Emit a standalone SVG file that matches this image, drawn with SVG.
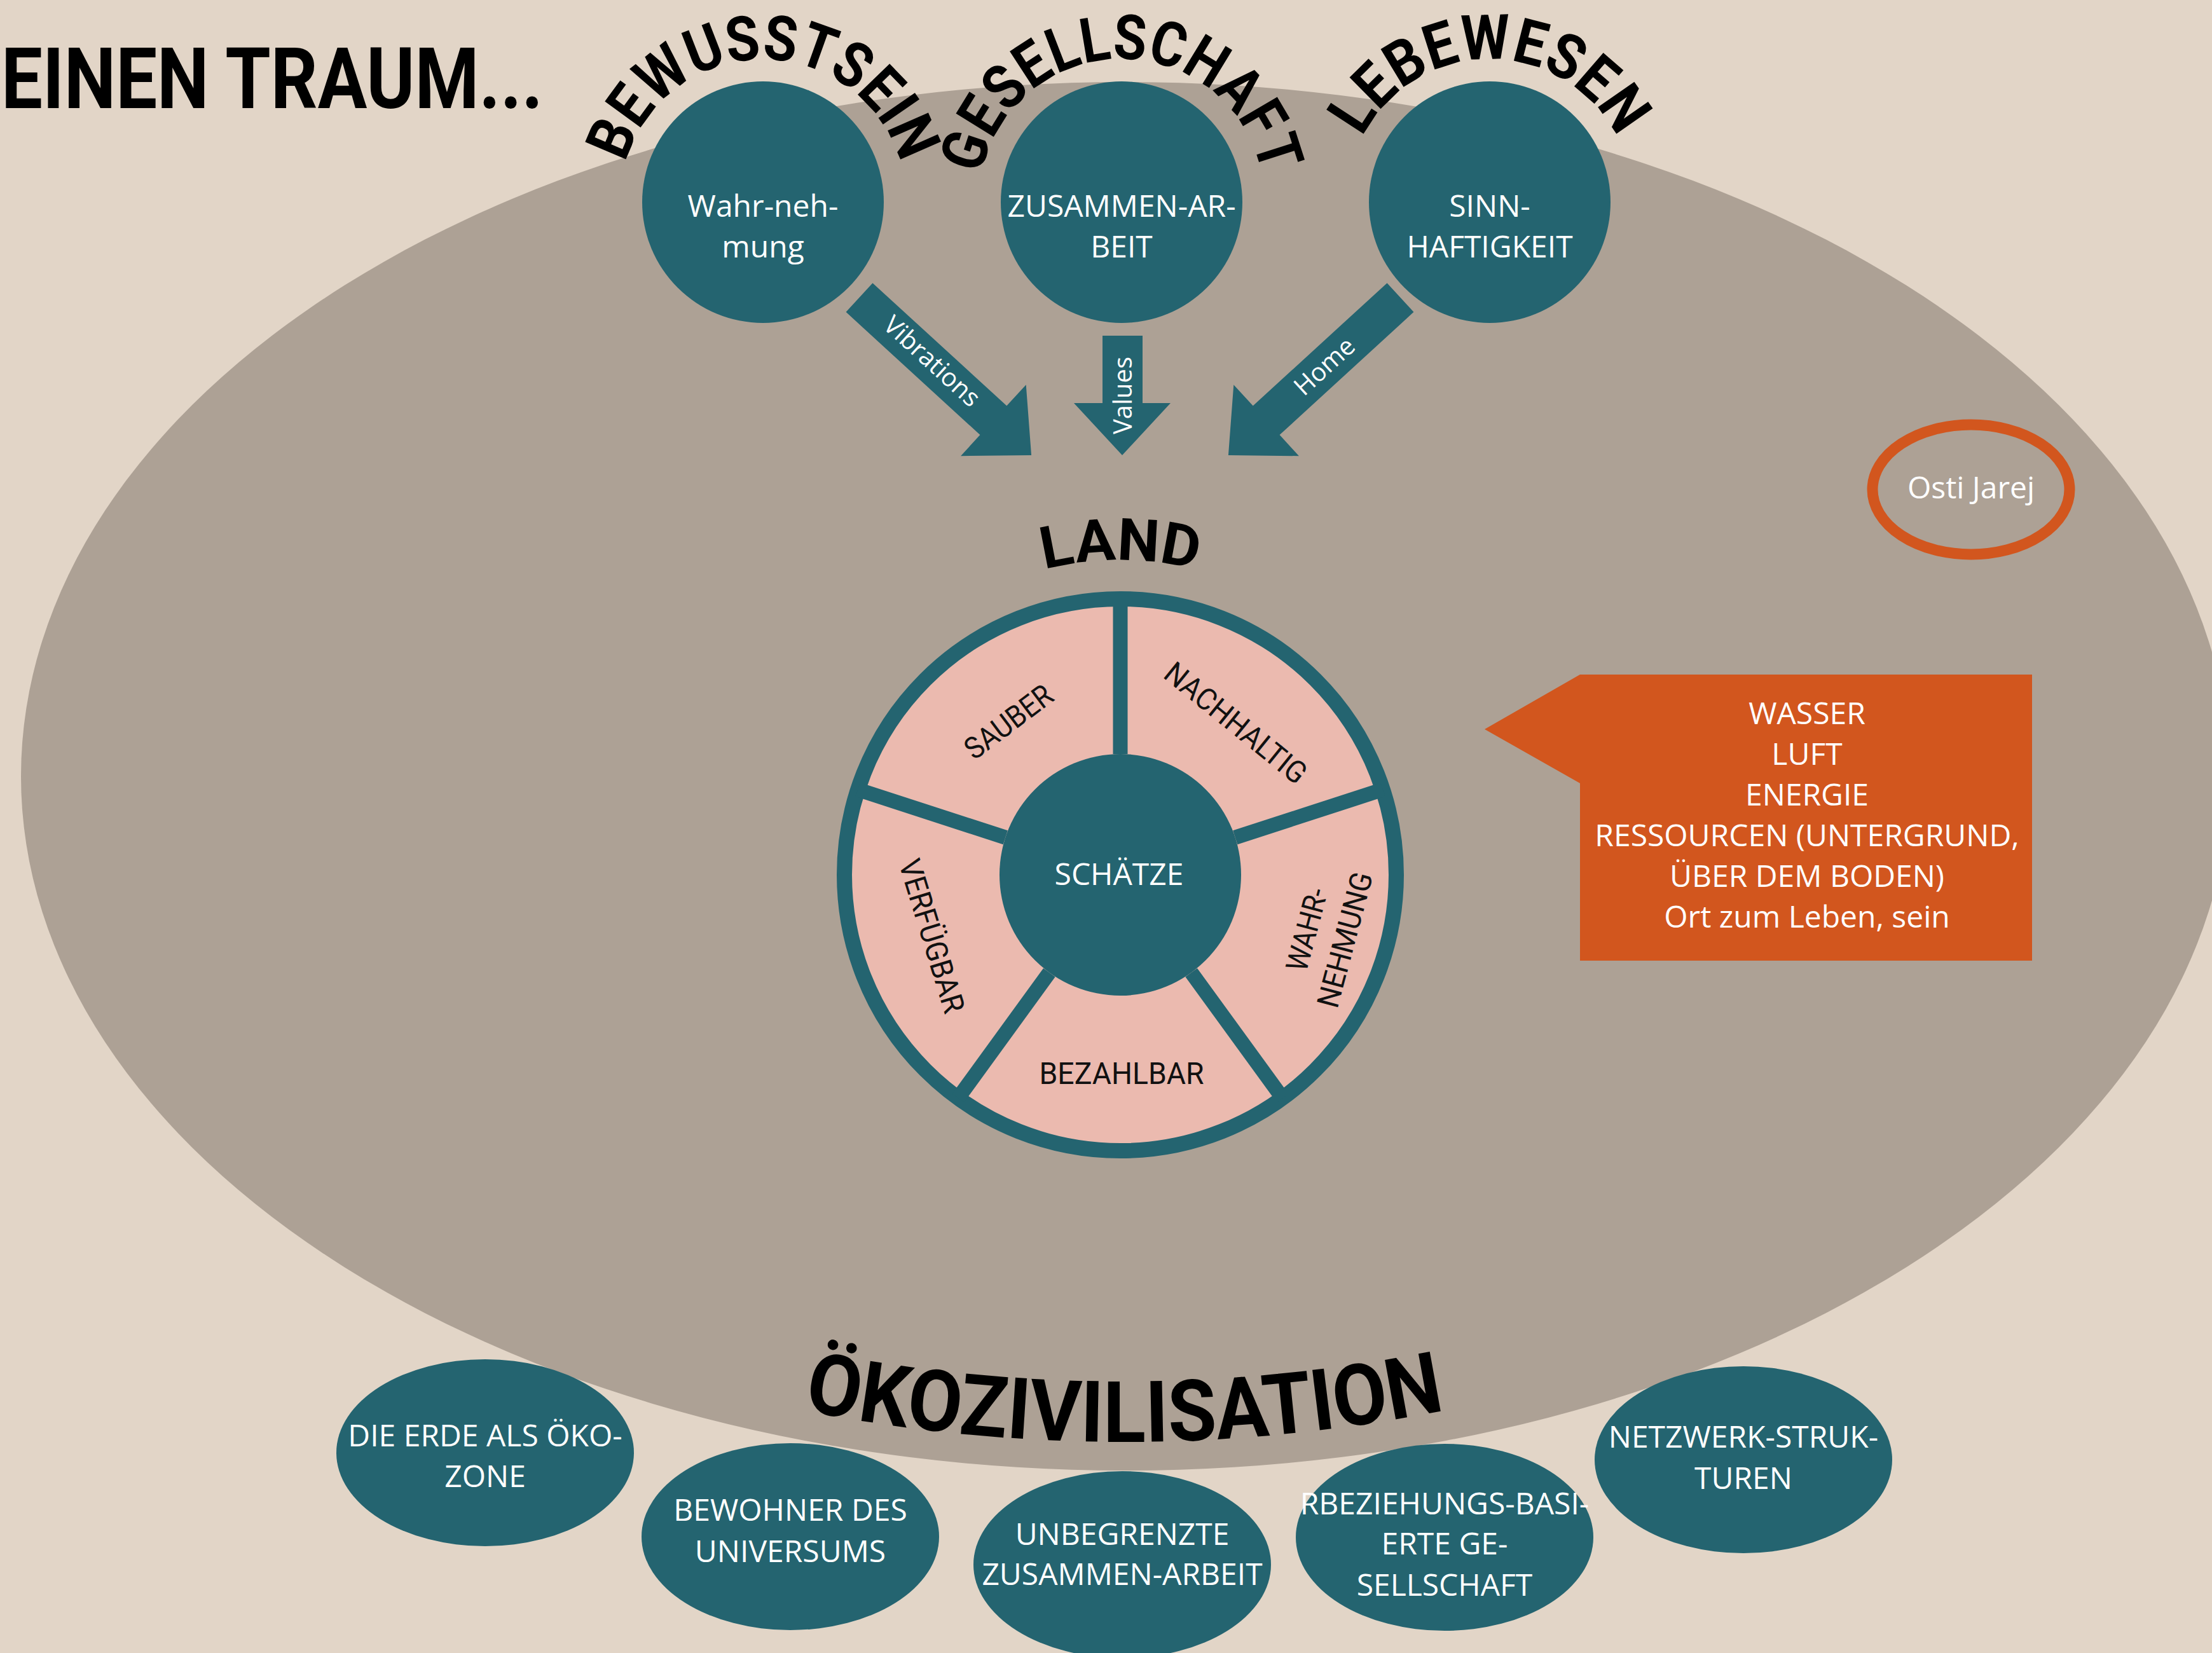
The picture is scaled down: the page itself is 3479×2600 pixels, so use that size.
<svg xmlns="http://www.w3.org/2000/svg" width="3479" height="2600" viewBox="0 0 3479 2600">
<defs>
<style>
.bg{fill:#E2D5C7}
.land{fill:#ADA195}
.teal{fill:#246470}
.node{font-family:"Open Sans","Noto Sans",sans-serif;font-size:48px;fill:#ffffff;text-anchor:middle}
.lbl{font-family:"Open Sans","Noto Sans",sans-serif;font-size:40px;fill:#ffffff;text-anchor:middle}
.head{font-family:Roboto,"Liberation Sans",sans-serif;font-weight:bold;fill:#000000}
.sec{font-family:Roboto,"Liberation Sans",sans-serif;font-size:48px;fill:#111111;text-anchor:middle}
</style>
<path id="arcBew" d="M 983.8 256 A 225 225 0 0 1 1416.2 256"/>
<path id="arcGes" d="M 1543.1 275 A 225 225 0 0 1 1984.9 275"/>
<path id="arcLeb" d="M 2142.5 215.9 A 225 225 0 0 1 2543.5 215.9"/>
<path id="arcLand" d="M 1642.3 895.7 A 495 495 0 0 1 1881.7 895.7"/>
<path id="arcOeko" d="M 1263 2218 A 2578 2578 0 0 0 2273 2218"/>
</defs>
<rect class="bg" x="0" y="0" width="3479" height="2600"/>
<ellipse id="oekozivilisation-area" class="land" cx="1770" cy="1221" rx="1737" ry="1092"/>

<text id="title" class="head" x="2" y="170" font-size="134" textLength="852" lengthAdjust="spacingAndGlyphs">EINEN TRAUM...</text>

<g id="node-bewusstsein">
<circle class="teal" cx="1200" cy="318" r="190"/>
<text class="node" x="1200" y="341">Wahr-neh-</text>
<text class="node" x="1200" y="405">mung</text>
<text class="head" font-size="98"><textPath href="#arcBew" textLength="581" lengthAdjust="spacingAndGlyphs">BEWUSSTSEIN</textPath></text>
</g>
<g id="node-gesellschaft">
<circle class="teal" cx="1764" cy="318" r="190"/>
<text class="node" x="1764" y="341">ZUSAMMEN-AR-</text>
<text class="node" x="1764" y="405">BEIT</text>
<text class="head" font-size="98"><textPath href="#arcGes" textLength="620" lengthAdjust="spacingAndGlyphs">GESELLSCHAFT</textPath></text>
</g>
<g id="node-lebewesen">
<circle class="teal" cx="2343" cy="318" r="190"/>
<text class="node" x="2343" y="341">SINN-</text>
<text class="node" x="2343" y="405">HAFTIGKEIT</text>
<text class="head" font-size="98"><textPath href="#arcLeb" textLength="495" lengthAdjust="spacingAndGlyphs">LEBEWESEN</textPath></text>
</g>

<g id="connectors">
<g transform="translate(1351.5 468) rotate(42.5)">
<polygon class="teal" points="0,-31 286,-31 286,-76 367,0 286,76 286,31 0,31"/>
</g>
<text class="lbl" transform="translate(1466 568) rotate(42.5)" x="0" y="14">Vibrations</text>
<polygon class="teal" points="1734,528 1797,528 1797,634 1841,634 1765,716 1689,634 1734,634"/>
<text class="lbl" transform="translate(1766 622) rotate(-90)" x="0" y="14">Values</text>
<g transform="translate(2202.5 468) rotate(137.5)">
<polygon class="teal" points="0,-31 286,-31 286,-76 367,0 286,76 286,31 0,31"/>
</g>
<text class="lbl" transform="translate(2083 576) rotate(-42.5)" x="0" y="14">Home</text>
</g>

<g id="node-land">
<text class="head" font-size="92"><textPath href="#arcLand" textLength="242" lengthAdjust="spacingAndGlyphs">LAND</textPath></text>
<circle cx="1762" cy="1376" r="434" fill="#EBBAAF" stroke="#246470" stroke-width="24"/>
<g stroke="#246470" stroke-width="23">
<line x1="1762" y1="1186" x2="1762" y2="942"/>
<line x1="1762" y1="1186" x2="1762" y2="942" transform="rotate(72 1762 1376)"/>
<line x1="1762" y1="1186" x2="1762" y2="942" transform="rotate(144 1762 1376)"/>
<line x1="1762" y1="1186" x2="1762" y2="942" transform="rotate(216 1762 1376)"/>
<line x1="1762" y1="1186" x2="1762" y2="942" transform="rotate(288 1762 1376)"/>
</g>
<circle class="teal" cx="1762" cy="1376" r="190"/>
<text class="node" x="1760" y="1392">SCHÄTZE</text>
<text class="sec" transform="translate(1586 1135) rotate(-37)" x="0" y="17" textLength="160" lengthAdjust="spacingAndGlyphs">SAUBER</text>
<text class="sec" transform="translate(1944 1137) rotate(39)" x="0" y="17" textLength="272" lengthAdjust="spacingAndGlyphs">NACHHALTIG</text>
<text class="sec" transform="translate(1466 1472) rotate(73)" x="0" y="17" textLength="250" lengthAdjust="spacingAndGlyphs">VERFÜGBAR</text>
<text class="sec" transform="translate(2085 1470) rotate(-75)" x="0" y="-14" textLength="133" lengthAdjust="spacingAndGlyphs">WAHR-</text>
<text class="sec" transform="translate(2085 1470) rotate(-75)" x="0" y="48" textLength="218" lengthAdjust="spacingAndGlyphs">NEHMUNG</text>
<text class="sec" x="1764" y="1705" textLength="259" lengthAdjust="spacingAndGlyphs">BEZAHLBAR</text>
</g>

<g id="node-osti">
<ellipse cx="3100" cy="770" rx="155" ry="102" fill="none" stroke="#D2561E" stroke-width="17"/>
<text class="node" x="3100" y="784">Osti Jarej</text>
</g>

<g id="node-ressourcen">
<polygon fill="#D2561E" points="2335,1147 2485,1061 3196,1061 3196,1511 2485,1511 2485,1232"/>
<text class="node" x="2842" y="1139">WASSER</text>
<text class="node" x="2842" y="1203">LUFT</text>
<text class="node" x="2842" y="1267">ENERGIE</text>
<text class="node" x="2842" y="1331" font-size="47">RESSOURCEN (UNTERGRUND,</text>
<text class="node" x="2842" y="1395">ÜBER DEM BODEN)</text>
<text class="node" x="2842" y="1459">Ort zum Leben, sein</text>
</g>

<text id="oeko-title" class="head" font-size="134"><textPath href="#arcOeko" textLength="1017" lengthAdjust="spacingAndGlyphs">ÖKOZIVILISATION</textPath></text>

<g id="node-erde">
<ellipse class="teal" cx="763" cy="2285" rx="234" ry="147"/>
<text class="node" x="763" y="2275" font-size="47">DIE ERDE ALS ÖKO-</text>
<text class="node" x="763" y="2339" font-size="47">ZONE</text>
</g>
<g id="node-bewohner">
<ellipse class="teal" cx="1243" cy="2417" rx="234" ry="147"/>
<text class="node" x="1243" y="2392" font-size="47">BEWOHNER DES</text>
<text class="node" x="1243" y="2457" font-size="47">UNIVERSUMS</text>
</g>
<g id="node-zusammenarbeit">
<ellipse class="teal" cx="1765" cy="2461" rx="234" ry="147"/>
<text class="node" x="1765" y="2430" font-size="47">UNBEGRENZTE</text>
<text class="node" x="1765" y="2493" font-size="47">ZUSAMMEN-ARBEIT</text>
</g>
<g id="node-beziehung">
<ellipse class="teal" cx="2272" cy="2418" rx="234" ry="147"/>
<text class="node" x="2272" y="2382" font-size="47">RBEZIEHUNGS-BASI-</text>
<text class="node" x="2272" y="2445" font-size="47">ERTE GE-</text>
<text class="node" x="2272" y="2510" font-size="47">SELLSCHAFT</text>
</g>
<g id="node-netzwerk">
<ellipse class="teal" cx="2742" cy="2296" rx="234" ry="147"/>
<text class="node" x="2742" y="2277" font-size="47">NETZWERK-STRUK-</text>
<text class="node" x="2742" y="2342" font-size="47">TUREN</text>
</g>
</svg>
